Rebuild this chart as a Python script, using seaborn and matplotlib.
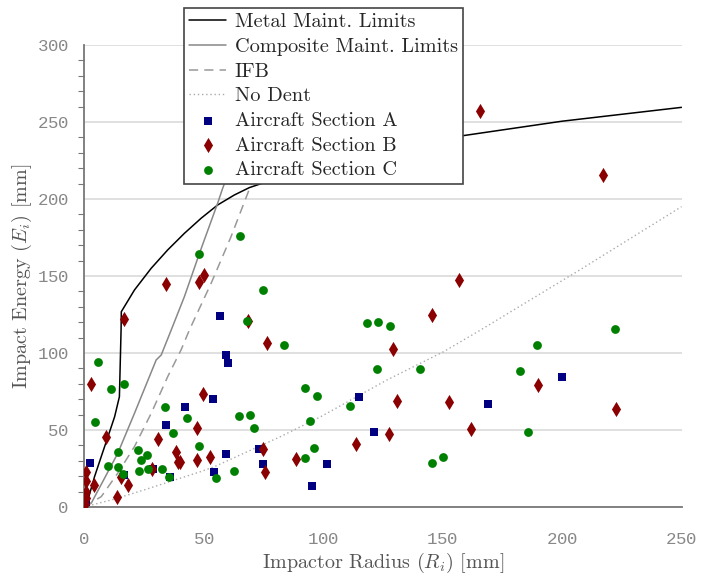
import matplotlib
matplotlib.use("Agg")
import matplotlib.pyplot as plt
import seaborn as sns
import pandas as pd
from matplotlib.ticker import MultipleLocator

# ---- limit curves ----
metal_r = [0, 1.6, 4.4, 7.2, 10.0, 12.8, 14.8, 15.5, 15.6, 21.1, 28.1, 35.0, 42.0, 49.0, 55.9, 62.9, 69.2, 80, 100, 120, 140, 158.5, 200, 250]
metal_e = [0, 4.5, 19.7, 32.7, 45.6, 58.6, 71.6, 114.9, 126.8, 140.9, 155.0, 166.9, 177.7, 187.5, 196.1, 202.6, 207.4, 213, 222, 229, 235, 241.1, 250.5, 259.5]

comp_r = [0, 3.0, 14.1, 21.1, 30.2, 32.3, 36.5, 42.0, 48.3, 55.9, 58.0, 66.0]
comp_e = [0, 2.4, 34.8, 60.8, 95.5, 98.7, 115.0, 136.6, 164.7, 197.2, 206.9, 240.0]

ifb_r = [0, 7.2, 14.1, 21.1, 28.1, 35.0, 40.6, 44.1, 53.2, 61.5, 68.5, 75.0]
ifb_e = [0, 6.7, 21.9, 39.2, 60.8, 84.6, 102.0, 115.0, 145.3, 175.5, 203.7, 230.0]

nodent_r = [0, 12.5, 25, 48.7, 54.6, 82.1, 99.0, 126.8, 150.4, 165.8, 207.4, 250]
nodent_e = [0, 5.0, 11.0, 22.9, 26.2, 45.6, 58.6, 82.5, 100.8, 114.8, 153.9, 195.0]

# ---- measurements ----
a_r = [0.8, 2.4, 16.9, 28.8, 34.5, 35.8, 42.1, 53.9, 54.5, 56.7, 59.6, 60.1, 59.2, 73.4, 74.7, 95.5, 101.5, 114.9, 121.4, 169.2, 200.2]
a_e = [3.3, 28.4, 20.5, 24.6, 53.3, 19.2, 64.8, 70.0, 22.8, 124.0, 98.7, 93.3, 34.2, 37.7, 27.9, 13.6, 27.7, 71.4, 48.7, 66.9, 84.2]

b_r = [1.0, 1.0, 0.8, 0.8, 0.5, 3.1, 4.1, 9.3, 13.8, 15.5, 16.8, 18.2, 28.6, 31.0, 34.2, 38.3, 39.5, 40.3, 47.3, 47.3, 48.3, 49.6, 50.1, 52.9, 68.5, 74.7, 75.6, 76.4, 88.8, 113.6, 127.6, 129.3, 130.8, 145.6, 152.7, 156.7, 162.1, 165.8, 189.9, 217.0, 222.5]
b_e = [23.0, 17.0, 9.5, 5.8, 2.0, 79.8, 14.3, 45.2, 6.6, 19.7, 121.9, 14.4, 24.6, 44.3, 145.0, 35.8, 29.0, 29.3, 51.5, 30.8, 146.3, 73.4, 150.4, 32.5, 120.5, 37.9, 22.7, 106.7, 31.0, 41.1, 47.4, 102.4, 68.6, 124.7, 68.0, 147.4, 50.4, 257.3, 79.0, 215.8, 63.4]

c_r = [4.5, 5.8, 10.2, 11.3, 14.1, 14.3, 16.1, 16.9, 22.5, 23.9, 23.2, 26.5, 26.8, 32.7, 33.9, 35.6, 37.2, 43.0, 48.1, 48.2, 55.3, 62.8, 65.0, 65.3, 68.4, 69.5, 71.1, 74.8, 83.8, 92.3, 92.6, 94.6, 96.1, 97.5, 111.4, 118.5, 122.4, 123.1, 128.1, 140.6, 145.6, 150.2, 182.4, 185.8, 189.6, 222.2]
c_e = [55.4, 94.4, 26.5, 76.9, 35.6, 26.2, 21.3, 79.8, 36.8, 30.6, 23.5, 34.0, 24.6, 24.8, 64.6, 19.5, 48.2, 57.6, 39.7, 164.3, 19.0, 23.4, 59.1, 175.8, 120.8, 59.5, 51.5, 140.6, 105.2, 32.0, 77.3, 55.8, 38.1, 71.9, 65.8, 119.5, 89.8, 120.1, 117.3, 89.4, 28.4, 32.7, 88.3, 48.5, 105.4, 115.6]

sns.set_theme(style="white")
plt.rcParams["font.family"] = ["cmr10", "DejaVu Serif"]
plt.rcParams["mathtext.fontset"] = "cm"
plt.rcParams["axes.formatter.use_mathtext"] = True

fig = plt.figure(figsize=(7.02, 5.79), dpi=100)
ax = fig.add_axes([0.1197, 0.1244, 0.8511, 0.7979])

ax.yaxis.grid(True, color="#dddddd", linewidth=1.3)
ax.set_axisbelow(True)

def curve(r, e, **kw):
    df = pd.DataFrame({"r": r, "e": e})
    sns.lineplot(data=df, x="r", y="e", sort=False, estimator=None, ax=ax, **kw)

curve(metal_r, metal_e, color="black", linewidth=1.1, label="Metal Maint. Limits")
curve(comp_r, comp_e, color="#888888", linewidth=1.1, label="Composite Maint. Limits")
curve(ifb_r, ifb_e, color="#999999", linewidth=1.1, dashes=False, label="IFB")
ax.lines[-1].set_linestyle((0, (6, 4)))
curve(nodent_r, nodent_e, color="#aaaaaa", linewidth=1.0, label="No Dent")
ax.lines[-1].set_linestyle((0, (1, 2)))

sns.scatterplot(x=a_r, y=a_e, marker="s", s=34, color="#000080", linewidth=0, ax=ax, label="Aircraft Section A", zorder=3)
sns.scatterplot(x=b_r, y=b_e, marker="d", s=60, color="#8b0000", linewidth=0, ax=ax, label="Aircraft Section B", zorder=3)
sns.scatterplot(x=c_r, y=c_e, marker="o", s=40, color="#008000", linewidth=0, ax=ax, label="Aircraft Section C", zorder=3)

ax.set_xlim(0, 250)
ax.set_ylim(0, 300)
ax.xaxis.set_major_locator(MultipleLocator(50))
ax.yaxis.set_major_locator(MultipleLocator(50))
ax.yaxis.set_minor_locator(MultipleLocator(10))

for s in ["top", "right"]:
    ax.spines[s].set_visible(False)
for s in ["left", "bottom"]:
    ax.spines[s].set_color("#777777")
    ax.spines[s].set_linewidth(1.3)

ax.tick_params(axis="both", which="major", direction="out", length=8, width=1.0, color="#555555",
               labelsize=12.5, labelcolor="#888888", pad=3)
ax.tick_params(axis="y", which="minor", direction="out", length=4, width=0.8, color="#777777", left=True)
ax.tick_params(axis="x", which="major", pad=10)
for lab in ax.get_xticklabels() + ax.get_yticklabels():
    lab.set_family(["Liberation Mono", "DejaVu Sans Mono"])

ax.set_xlabel(r"Impactor Radius ($R_i$) [mm]", fontsize=14.5, color="#555555", labelpad=3)
ax.set_ylabel(r"Impact Energy ($E_i$) [mm]", fontsize=14.5, color="#555555", labelpad=2)

handles, labels = ax.get_legend_handles_labels()
order = ["Metal Maint. Limits", "Composite Maint. Limits", "IFB", "No Dent",
         "Aircraft Section A", "Aircraft Section B", "Aircraft Section C"]
hmap = dict(zip(labels, handles))
leg = ax.legend([hmap[k] for k in order], order, loc="upper left", bbox_to_anchor=(0.167, 1.08),
                borderaxespad=0, fontsize=14.6, frameon=True, fancybox=False, framealpha=1,
                edgecolor="#444444", handlelength=1.85, labelspacing=0.32, borderpad=0.25,
                handletextpad=0.4)
leg.get_frame().set_linewidth(1.2)

fig.savefig("out.png", dpi=100)
